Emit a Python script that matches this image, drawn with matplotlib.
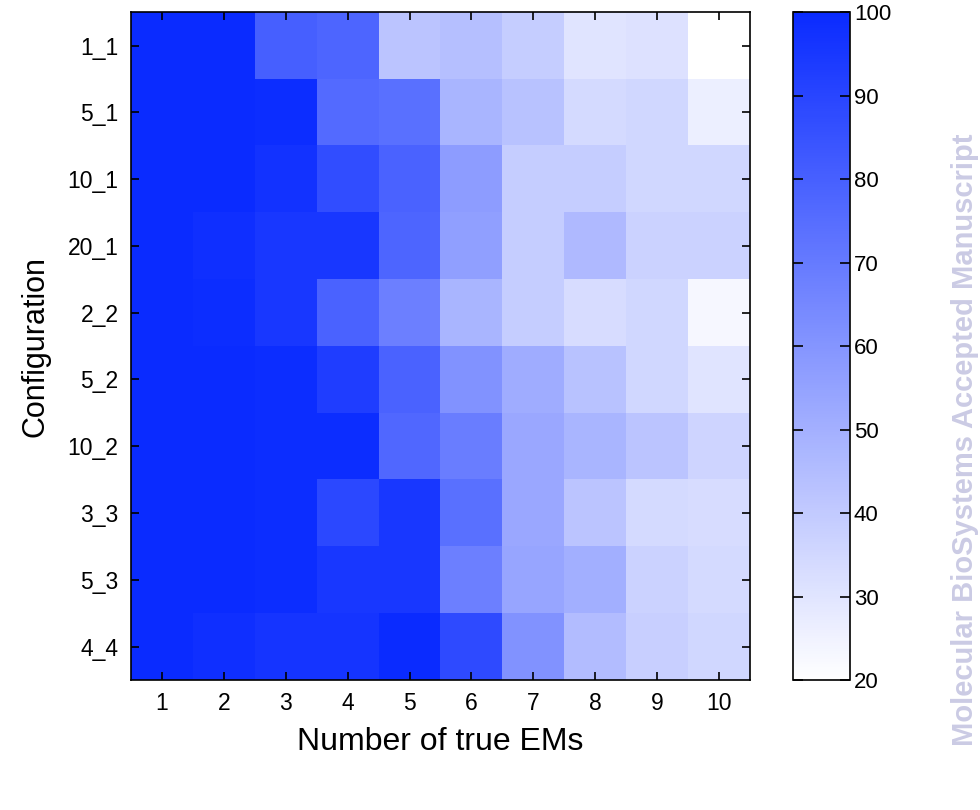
import numpy as np
import matplotlib
matplotlib.use("Agg")
import matplotlib.pyplot as plt
from matplotlib.colors import LinearSegmentedColormap

# Porcentaje de aciertos por configuración (filas) y número de EMs verdaderos (columnas)
configuraciones = ["1_1", "5_1", "10_1", "20_1", "2_2", "5_2", "10_2", "3_3", "5_3", "4_4"]
num_ems = [1, 2, 3, 4, 5, 6, 7, 8, 9, 10]

fila_1_1 = [100, 100, 80, 78, 42, 44, 39, 30, 31, 20]
fila_5_1 = [100, 100, 99, 76, 74, 48, 43, 34, 35, 26]
fila_10_1 = [100, 100, 97, 87, 79, 57, 39, 39, 35, 35]
fila_20_1 = [100, 98, 95, 95, 78, 56, 39, 46, 37, 37]
fila_2_2 = [100, 99, 95, 79, 68, 48, 39, 33, 35, 23]
fila_5_2 = [100, 100, 99, 93, 79, 61, 51, 43, 35, 30]
fila_10_2 = [100, 100, 99, 99, 77, 69, 53, 48, 42, 36]
fila_3_3 = [100, 100, 99, 89, 95, 74, 53, 42, 34, 33]
fila_5_3 = [100, 100, 99, 95, 95, 68, 54, 50, 37, 34]
fila_4_4 = [100, 98, 96, 96, 100, 88, 61, 45, 38, 35]

datos = np.array([fila_1_1, fila_5_1, fila_10_1, fila_20_1, fila_2_2,
                  fila_5_2, fila_10_2, fila_3_3, fila_5_3, fila_4_4])

fuente_estrecha = ["Liberation Sans Narrow", "Liberation Sans", "DejaVu Sans"]
fuente_normal = ["Liberation Sans", "DejaVu Sans"]
plt.rcParams["font.family"] = fuente_estrecha

# Mapa de color blanco -> azul
azules = LinearSegmentedColormap.from_list("blanco_azul", ["#ffffff", "#0a2bff"])

fig = plt.figure(figsize=(9.8, 8.1), dpi=100)
ax = fig.add_axes([0.1337, 0.1605, 0.6316, 0.8245])

im = ax.imshow(datos, cmap=azules, vmin=20, vmax=100, aspect="auto",
               interpolation="nearest", extent=(0.5, 10.5, 10.5, 0.5))

ax.set_xticks(num_ems)
ax.set_xticklabels([str(n) for n in num_ems])
ax.set_yticks(np.arange(1, 11))
ax.set_yticklabels(configuraciones)
ax.tick_params(direction="in", top=True, right=True, length=6, width=1.2,
               labelsize=16.5, pad=9)
for lado in ax.spines.values():
    lado.set_linewidth(1.2)

ax.set_xlabel("Number of true EMs", fontsize=23, labelpad=8)
ax.set_ylabel("Configuration", fontsize=22, labelpad=12)

# Barra de color
cax = fig.add_axes([0.809, 0.1605, 0.058, 0.8245])
cb = fig.colorbar(im, cax=cax, ticks=np.arange(20, 101, 10))
cb.outline.set_linewidth(1.2)
cax.tick_params(direction="in", left=True, right=True, length=7, width=1.2,
                labelsize=16, pad=3)
for etiqueta in cax.get_yticklabels():
    etiqueta.set_family(fuente_normal)

# Marca de agua de la revista
fig.text(0.985, 0.457, "Molecular BioSystems Accepted Manuscript", rotation=90,
         ha="center", va="center", fontsize=21, fontweight="bold",
         color="#cbcbe4")

fig.savefig("out.png", dpi=100)
